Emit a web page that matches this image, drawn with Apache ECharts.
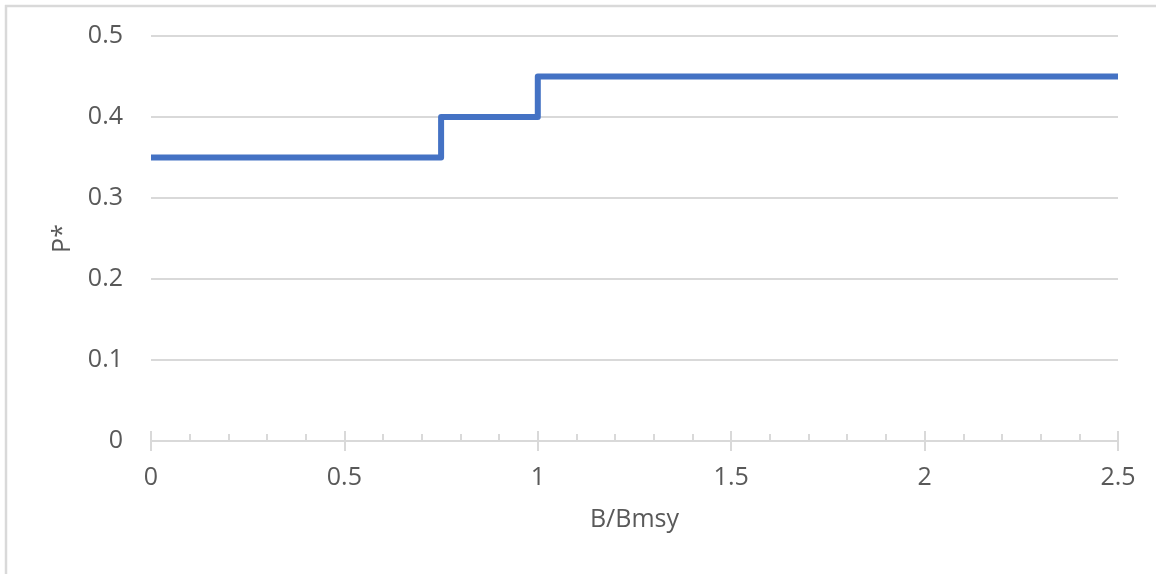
<!DOCTYPE html>
<html>
<head>
<meta charset="utf-8">
<script src="https://cdn.jsdelivr.net/npm/echarts@6/dist/echarts.min.js"></script>
<style>
html,body{margin:0;padding:0;background:#fff;}
#chart{width:1156px;height:574px;}
</style>
</head>
<body>
<div id="chart"></div>
<script>
// Data
const xBreaks = [0, 0.75, 1, 2.5];
const pValues = [0.35, 0.4, 0.45, 0.45];
const xTicks = [0, 0.5, 1, 1.5, 2, 2.5];
const yTicks = [0, 0.1, 0.2, 0.3, 0.4, 0.5];
const xTitle = 'B/Bmsy';
const yTitle = 'P*';

const seriesData = xBreaks.map((x, i) => [x, pValues[i]]);
const font = 'Open Sans';
const textColor = '#595959';
const axisGray = '#d9d9d9';

const chart = echarts.init(document.getElementById('chart'));
chart.setOption({
  animation: false,
  grid: { left: 151, right: 38, top: 36, bottom: 133 },
  xAxis: [
    {
      type: 'value',
      min: xTicks[0], max: xTicks[xTicks.length - 1], interval: 0.5,
      name: xTitle, nameLocation: 'middle', nameGap: 66,
      nameTextStyle: { color: textColor, fontSize: 25, fontFamily: font },
      axisLine: { show: true, lineStyle: { color: axisGray, width: 2 } },
      axisTick: { show: true, inside: false, length: 10, lineStyle: { color: axisGray, width: 2 } },
      axisLabel: { color: textColor, fontSize: 25, fontFamily: font, margin: 24 },
      splitLine: { show: false }
    },
    {
      type: 'value', position: 'bottom',
      min: xTicks[0], max: xTicks[xTicks.length - 1], interval: 0.5,
      axisLine: { show: false },
      axisTick: { show: true, inside: true, length: 10, lineStyle: { color: axisGray, width: 2 } },
      minorTick: { show: true, splitNumber: 5, length: 7, lineStyle: { color: axisGray, width: 2 } },
      axisLabel: { show: false },
      splitLine: { show: false }
    }
  ],
  yAxis: {
    type: 'value',
    min: yTicks[0], max: yTicks[yTicks.length - 1], interval: 0.1,
    name: yTitle, nameLocation: 'middle', nameGap: 76, nameRotate: 90,
    nameTextStyle: { color: textColor, fontSize: 25, fontFamily: font },
    axisLine: { show: false },
    axisTick: { show: false },
    axisLabel: { color: textColor, fontSize: 25, fontFamily: font, margin: 28 },
    splitLine: { show: true, lineStyle: { color: axisGray, width: 2 } }
  },
  series: [{
    type: 'line',
    step: 'end',
    data: seriesData,
    xAxisIndex: 0,
    symbol: 'none',
    lineStyle: { color: '#4472C4', width: 6, join: 'round', cap: 'butt' }
  }],
  graphic: [
    { type: 'line', shape: { x1: 6, y1: 5, x2: 6, y2: 574 }, style: { stroke: axisGray, lineWidth: 2.5 } },
    { type: 'line', shape: { x1: 5, y1: 6, x2: 1156, y2: 6 }, style: { stroke: axisGray, lineWidth: 2.5 } }
  ]
});
</script>
</body>
</html>
